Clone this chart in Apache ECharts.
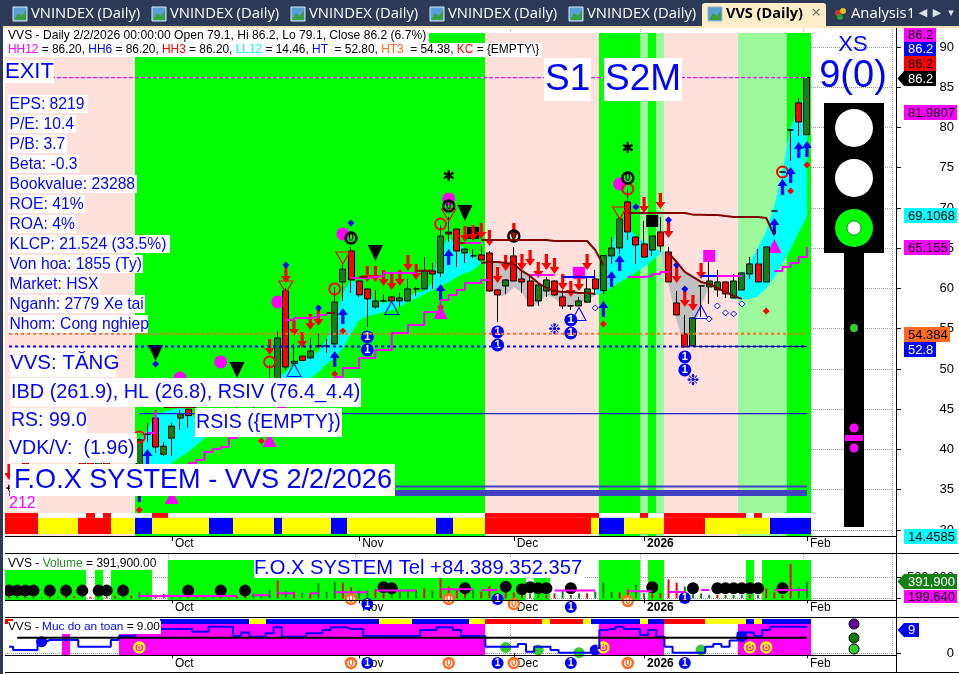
<!DOCTYPE html>
<html><head><meta charset="utf-8">
<style>html,body{margin:0;padding:0;background:#fff}#c{width:959px;height:674px}</style>
<script src="https://cdn.jsdelivr.net/npm/echarts@6/dist/echarts.min.js"></script>
</head><body><div id="c"></div>
<script>
// ---------- data ----------
const monthTicks = {20:'Oct',43:'Nov',62:'Dec',78:'2026',98:'Feb'};
const barCount = 99, slotCount = 109;
// [open, close, low, high]
const ohlc = [
[35.2,35.2,34.9,35.6],[36.0,36.8,35.6,37.2],[38.4,36.6,36.2,38.5],[36.6,36.0,35.5,37.0],[36.0,37.0,35.5,37.5],
[37.0,37.6,36.6,38.0],[37.5,36.8,36.4,37.8],[36.8,37.5,36.5,37.8],[37.4,37.9,37.0,38.1],[38.4,36.5,36.0,38.5],
[38.4,37.0,36.8,38.5],[37.0,38.4,36.8,38.5],[38.4,37.0,36.7,38.5],[37.0,37.8,36.7,38.0],[37.5,38.0,37.0,38.2],
[37.2,38.0,36.9,38.2],[37.4,41.2,37.0,41.4],[41.9,41.9,40.9,43.3],[43.9,40.3,39.6,44.7],[39.4,40.4,39.2,40.9],
[41.4,42.9,39.2,43.3],[43.9,44.4,42.4,44.9],[45.0,44.2,42.7,45.0],[46.0,47.2,45.5,47.8],[47.4,46.3,45.6,47.9],
[46.5,47.5,45.8,48.1],[47.6,46.6,45.7,48.0],[46.8,47.8,45.9,48.2],[46.0,46.0,44.9,47.5],[46.5,46.5,45.5,47.5],
[46.0,47.0,44.9,47.8],[47.0,47.0,45.5,48.0],[47.5,48.4,46.0,50.5],[48.0,53.85,47.5,54.7],[59.7,50.25,49.9,60.07],
[50.7,50.95,50.6,53.1],[51.6,51.05,51.0,51.6],[51.37,52.24,51.3,53.85],[52.86,52.86,52.6,54.35],[52.86,52.86,52.0,53.73],
[53.1,58.3,53.0,60.2],[60.8,62.4,58.45,62.9],[64.66,61.06,59.45,65.16],[60.93,59.2,58.95,61.0],[59.94,58.7,55.2,60.0],
[57.7,58.45,57.45,59.8],[58.45,58.45,58.4,59.2],[58.95,58.45,58.2,59.0],[58.45,58.83,57.7,59.45],[58.45,59.94,58.4,61.2],
[59.94,59.94,59.07,60.2],[59.94,62.18,59.9,63.9],[62.18,61.8,59.94,63.17],[61.93,66.5,61.43,67.9],[67.0,66.77,65.78,68.88],
[67.39,64.66,62.67,67.4],[64.41,64.9,63.17,64.95],[64.04,64.04,63.79,64.9],[64.16,63.54,63.5,65.28],[64.41,59.69,59.6,64.66],
[59.82,59.2,55.84,59.85],[60.31,61.06,59.32,61.18],[64.04,60.93,60.9,65.16],[61.18,60.81,59.44,62.3],[60.93,57.83,57.8,61.68],
[58.45,60.44,57.83,60.5],[59.69,61.06,58.95,61.43],[60.93,59.2,59.1,61.0],[58.95,57.83,57.45,59.8],[57.83,57.83,57.33,57.9],
[57.83,58.45,57.8,58.95],[58.3,59.94,58.25,61.43],[61.18,59.94,59.44,62.3],[59.73,64.08,59.32,64.1],[64.04,65.03,63.05,66.4],
[65.03,68.64,64.29,68.7],[70.75,67.02,66.03,72.24],[66.4,65.4,63.05,66.45],[65.53,63.9,63.85,68.39],[64.78,66.52,64.04,66.55],
[67.02,65.28,64.54,68.88],[64.54,60.81,60.8,65.16],[58.2,56.71,56.7,59.69],[54.35,52.73,52.7,56.71],[52.86,56.34,52.8,56.4],
[60.31,60.31,56.46,60.35],[60.19,60.93,58.08,63.42],[59.82,60.81,58.95,62.3],[60.81,59.32,58.82,60.85],[58.82,60.93,58.8,61.8],
[59.82,61.93,59.8,62.0],[61.8,63.05,61.18,63.92],[63.05,60.81,60.8,64.91],[60.81,65.16,60.8,65.2],[69.63,69.63,69.63,69.63],
[74.47,74.47,74.47,74.47],[79.69,79.69,75.84,79.69],[83.05,80.68,78.95,83.67],[79.1,86.2,79.1,86.2]];
const volumes = [40000,30000,40000,40000,30000,40000,40000,60000,50000,40000,30000,40000,40000,50000,40000,60000,
143000,119000,79000,103000,79000,56000,56000,60000,50000,50000,60000,40000,50000,119000,119000,103000,198000,420000,175000,159000,135000,119000,357000,159000,
397000,373000,262000,198000,198000,222000,119000,159000,198000,214000,198000,238000,198000,476000,278000,214000,159000,198000,159000,294000,
119000,238000,143000,79000,119000,79000,79000,119000,198000,79000,119000,119000,159000,373000,159000,143000,214000,317000,119000,119000,
119000,452000,373000,278000,119000,119000,79000,79000,79000,79000,79000,79000,79000,238000,143000,79000,817000,262000,391900];
const volDir = 'rgrggrgrrgrggrgrggrgggrgrgrgrrgggrgrgrgggrrggrrggggrgrrrrgrrgrrrggrrgggrgggrrggrrrrggggrgggrgrrrrg';
const safetyLevel = [2.25,1.1,1.1,1.1,3.9,4.5,4.5,4.5,4.5,2.25,2.25,2.25,2.25,4.5,5.85,5.85,7.3,7.3,8.2,8.2,8.2,8.2,8.2,7.3,7.3,9,9,9,5.85,7,5.6,5.6,6.75,8.8,5.6,5.6,5.6,6.75,6.75,7.9,8.8,8.8,8.2,8.2,5.85,5.85,5.85,5.85,5.85,5.85,5.85,7.9,7.9,8.8,8.8,7.9,5.85,5.85,5.85,2.25,2.25,2.25,2.25,3.15,0.56,2.25,2.25,1.1,0.2,0.2,0.2,0.2,1.7,7.9,8.2,9,8.2,8.2,6.2,7.9,5.6,2.25,0.2,0.2,0.2,0.2,2.25,3.15,2.25,4.3,7,7,5.85,7.9,9,9,9,9,9];
// chart background, per bar
const bgRuns = [['p',16],['g',43],['p',14],['g',5],['l',1],['g',1],['l',1],['p',9],['l',6],['g',3]];
const stripLow = [['r',4],['y',5],['r',4],['y',3],['b',2],['y',7],['b',3],['y',5],['b',1],['y',6],['b',2],['y',11],['b',2],['y',4],['r',13],['y',1],['b',3],['y',5],['r',5],['y',8],['b',5]];
const stripTop = [['r',4],['n',6],['r',1],['n',1],['r',1],['n',5],['r',2],['n',39],['r',14],['n',5],['r',1],['n',2],['r',10],['n',1],['r',1],['n',6]];
const volBgRuns = [['l',10],['n',1],['l',1],['n',1],['l',5],['n',2],['h',44],['n',1],['h',2],['n',6],['h',5],['n',1],['h',2],['n',10],['h',1],['n',1],['h',6]];
const safetyStrip = [['r',1],['n',18],['b',11],['y',2],['b',14],['y',4],['b',7],['y',2],['r',7],['y',1],['r',4],['y',1],['b',6],['y',1],['b',2],['r',5],['y',5],['b',1],['y',1],['b',6]];
const safetyBand = [['n',7],['m',1],['n',6],['m',45],['n',14],['m',8],['n',9],['m',9]];
// clouds: [first bar, top values, bottom values]
const cloudA = [16,[41.18,42.42,44.29,44.66,44.91,45.16,44.91,43.67,41.43],[36.2,36.84,37.46,37.83,38.33,39.07,39.69,40.56,41.43]];
const cloudB = [33,[48.88,49.63,50.62,51.12,51.49,52.11,53.6,56.09,59.44,61.06,60.56,59.32,58.33,58.2,58.33,58.7,59.07,59.44,59.69,60.68,64.78,66.28,65.66,64.91,64.04,63.17],
 [48.88,48.76,48.76,48.76,48.88,49.63,50.62,51.49,52.61,54.47,56.09,56.59,56.83,57.08,57.33,57.83,58.33,58.82,59.32,59.82,60.31,60.81,61.43,61.93,62.3,63.17]];
const grayE = [59,[63.29,63.29,63.17,63.05,62.18,61.56,60.68,60.06,59.69,59.57,59.57,59.44,59.44,59.32],[59.82,59.07,59.2,60.19,59.57,57.83,58.2,59.2,58.82,57.95,57.7,58.2,58.57,59.2]];
const cloudC = [72,[59.32,62.3,65.41,67.89,67.52,66.52,65.78,65.16,64.66,64.41],[59.2,59.57,60.19,60.81,61.43,62.05,62.67,63.54,64.29,64.41]];
const grayF = [80,[64.54,64.41,63.29,62.05,61.43,60.81,60.56],[64.54,60.68,56.09,52.73,54.85,57.95,60.31]];
const cloudD = [89,[58.7,61.31,63.29,65.03,67.02,70.13,74.35,79.94,82.42,84.41],[58.7,58.7,58.7,59.07,60.06,61.43,63.17,65.03,67.02,69.01]];
// lines: [first bar, values]
const resistLines = [[19,[45.28,45.28,45.28,45.28,45.28]],[39,[56.96,56.96]],[43,[61.43,61.43]],[50,[62.2,62.2,62.2]],[55,[65.65,65.65]],
 [58,[66.03,66.03,66.03,66.03,66.03,66.03,66.03,66.03,66.03,65.9,65.9,65.9,65.9,65.9,64.78,62.9]],
 [76,[69.38,69.38,69.38,69.38,69.38,69.38,69.38,69.38,69.17,69.17,69.13,69.13,69.0,68.88,68.88,68.88,68.88,68.76,66.6]]];
const lowerRedLines = [[58,[63.17,63.29,63.29,63.17,63.05,62.18,61.56,60.68,60.06,59.69,59.57,59.57,59.44,59.44,59.32]],
 [81,[64.41,63.29,62.05,61.43,60.81,60.56,60.06,59.57,59.07,58.7]]];
const stopLines = [[22,[38.33,38.7,39.69,40.06,40.31,41.43,41.68,42.42,43.05,43.67,44.66,45.16,45.78,46.4,47.02,47.64,48.14,48.64,49.01,50.13,50.13,51.37,51.37,52.36,52.36,54.47,54.47,55.47,55.47,57.08,57.08,58.57,59.2,59.82,60.68,60.68,61.06,61.06]],
 [64,[61.68,61.68,61.68,61.68]],[76,[61.43,61.43,61.55,61.8,62.05,62.18]],[87,[61.55,61.55,61.55,61.55]],[94,[62.18,62.67,63.17,63.92,65.16]]];
const upperMagLines = [[17,[42.05,44.91]],[34,[56.09,56.34,56.34,56.46,56.71,56.83]],[42,[61.31,61.31,61.43,61.56,61.93,61.93,61.93,61.93,61.93]],[55,[65.66,65.66,65.66,65.66]]];
const blueLines = [[68,[61.43,61.43,61.43,61.43,61.43]],[85,[61.55,61.55,61.55]]];
const volMALines = [[16,[56000,56000,56000,56000,56000,56000,56000,56000,56000,56000,56000,56000,56000]],[30,[71000,71000,71000]],[33,[119000,119000,119000]],[37,[119000,119000]],[40,[143000,143000,143000,143000,143000]],[45,[183000,183000,183000,183000,183000,183000]],[53,[214000,214000,214000,214000,214000]],[58,[198000,198000,198000]],[67,[183000,183000,183000,183000,183000,183000]],[76,[167000,167000,167000,167000]],[81,[151000,151000,151000]],[85,[198000,198000]],[94,[198000,198000,198000,198000,198000]]];
// levels
const level862 = 86.2, levelHT3 = 54.38, levelHT = 52.8, level444 = 44.46, level354 = 35.4, level346 = 34.6, safetyBase = 5.29;
// markers [bar, value]
const redArrows = [[0,37.2],[32,52.73],[34,61.68],[35,55.1],[36,53.6],[37,55.84],[38,56.34],[44,61.8],[45,61.8],[46,61.31],[47,60.81],[48,61.31],[49,63.17],[50,62.05],[56,66.77],[57,66.9],[58,67.14],[59,66.28],[60,61.68],[61,63.17],[62,67.14],[63,63.29],[64,63.79],[65,62.3],[66,63.29],[67,62.8],[68,60.81],[69,59.94],[70,60.68],[71,63.29],[78,70.37],[80,70.87],[81,67.27],[82,61.68],[83,58.7],[84,58.2],[85,62.18]];
const blueArrows = [[16,34.47],[17,39.07],[40,51.25],[41,56.59],[53,59.57],[54,63.92],[73,57.45],[74,61.18],[75,63.17],[94,67.77],[95,72.61],[96,74.1],[97,77.2],[98,77.33]];
const redDiamonds = [[16,32.49],[31,41.06],[40,49.38],[41,54.72],[53,57.7],[73,55.59],[93,57.21],[96,72.11],[98,75.34]];
const blueDiamonds = [[18,50.62],[34,62.92],[38,57.58],[42,68.14],[77,70.13],[81,68.51],[82,62.92],[83,59.94]];
const redRings = [[16,41.55],[32,50.87],[40,59.94],[53,68.01],[76,72.36],[95,74.47]];
const blackTriangles = [[18,51.99],[28,49.88],[45,64.41],[56,69.38]];
const magentaDots = [[21,48.88],[26,50.87],[33,58.33],[41,66.77],[54,71.12],[75,72.98]];
const blackCoins = [[42,66.28],[54,70.25],[62,66.52],[76,73.73]];
const blueCoins = [[44,53.98],[44,52.36],[60,54.6],[60,52.98],[69,56.09],[69,54.47],[83,51.49],[83,49.88]];
const hollowBlueTri = [[35,49.88],[47,57.58],[70,56.83],[85,57.08]];
const hollowRedTri = [[34,60.19],[41,63.79],[54,69.13],[75,69.38]];
const magentaTri = [[20,34.1],[32,41.18],[53,57.08],[94,65.28]];
const magentaSquares = [[70,61.93],[86,64.04]];
const blackSquares = [[57,66.9],[79,68.39]];
const blueSmallDiamonds = [[72,57.58],[86,56.21],[87,57.83],[88,56.96],[89,56.84],[90,58.08]];
const snowflakes = [[67,54.85],[84,48.51]];
const stars = [[54,73.85],[76,77.33]];
const volBalls = [[0,183000],[1,183000],[2,183000],[3,183000],[5,183000],[7,183000],[9,183000],[11,183000],[12,183000],[14,183000],[22,183000],[26,183000],[29,183000],[46,262000],[47,238000],[56,238000],[61,278000],[63,214000],[64,262000],[65,238000],[66,238000],[69,238000],[79,262000],[84,238000],[87,238000],[88,238000],[89,238000],[90,238000],[91,238000],[92,238000],[95,238000]];
const volOrangeCoins = [[42,-17000],[54,-17000],[62,-136000],[76,-64000]];
const volBlueCoins = [[44,-136000],[60,-17000],[69,-207000],[83,7000]];
const safetyOrangeCoins = [[42,-3.27],[54,-3.27],[62,-3.27],[76,-3.27]];
const safetyBlueCoins = [[44,-3.27],[60,-3.27],[69,-3.27],[83,-3.27]];
const safetyBlueDots = [[4,3.9],[72,1.1],[90,5.6]];
const safetyGreenDots = [[61,2],[65,1.1],[70,0.2],[85,1.1]];
const safetyEights = [[16,2],[73,2],[91,2],[93,2]];
// text
const statLines = [['EPS: 8219',88],['P/E: 10.4',76],['P/B: 3.7',67],['Beta: -0.3',79],['Bookvalue: 23288',137],['ROE: 41%',85],['ROA: 4%',76],['KLCP: 21.524 (33.5%)',170],['Von hoa: 1855 (Ty)',143],['Market: HSX',100],['Nganh: 2779 Xe tai',145],['Nhom: Cong nghiep',148]];
const priceTicks = [30,35,40,45,50,55,60,65,70,75,80,85,90];

// ---------- helpers ----------
const RED='#ff0000',BLUE='#0000ff',MAG='#ff00ff',CYAN='#00ffff',LIME='#00ff00',DKG='#128012',YEL='#ffff00',PINK='#fee0dc',LGRN='#9cf99c',DKRED='#800000',ORG='#ff6a20';
const SANS='"Liberation Sans",Arial,sans-serif';
const expand = runs => runs.flatMap(([k,n])=>Array(n).fill(k));
function cells(ax,codes,map,top,bot){
  const list=expand(codes);
  return {type:'custom',xAxisIndex:ax,yAxisIndex:ax,clip:false,silent:true,encode:{x:0,y:[1,2]},
    data:list.map((c,i)=>[i,typeof top==='function'?top(c):top,bot]),
    renderItem(p,api){
      const f=map[list[p.dataIndex]]; if(!f) return null;
      const a=api.coord([api.value(0),api.value(1)]),b=api.coord([api.value(0),api.value(2)]),w=api.size([1,0])[0];
      const x1=Math.round(a[0]-w/2),x2=Math.round(a[0]+w/2);
      return {type:'rect',shape:{x:x1,y:a[1],width:x2-x1,height:b[1]-a[1]},style:{fill:f}};
    }};
}
function cloud([first,top,bot],fill){
  const d=top.slice(0,-1).map((v,k)=>[first+k,v,bot[k],top[k+1],bot[k+1]]);
  return {type:'custom',clip:false,silent:true,encode:{x:0,y:1},data:d,renderItem(p,api){
    const i=api.value(0);
    const pts=[api.coord([i,api.value(1)]),api.coord([i+1,api.value(3)]),api.coord([i+1,api.value(4)]),api.coord([i,api.value(2)])];
    return {type:'polygon',shape:{points:pts},style:{fill,stroke:fill,lineWidth:0.5}};
  }};
}
const seg=([s,v])=>v.map((y,k)=>[s+k,y]);
const lineS=(data,color,width,extra={},ax=0)=>Object.assign({type:'line',xAxisIndex:ax,yAxisIndex:ax,data,showSymbol:false,symbol:'none',silent:true,animation:false,lineStyle:{color,width}},extra);
const level=(v,from,to,color,width,dash)=>lineS([[from,v],[to,v]],color,width,{lineStyle:{color,width,type:dash||'solid'}});
const marks=(data,symbol,size,itemStyle,extra={},ax=0)=>Object.assign({type:'scatter',clip:false,xAxisIndex:ax,yAxisIndex:ax,data,symbol,symbolSize:size,itemStyle:Object.assign({opacity:1},itemStyle),silent:true},extra);
const coin=(data,size,fill,stroke,bw,txt,tc,fs,ax=0)=>marks(data,'circle',size,{color:fill,borderColor:stroke,borderWidth:bw},{label:{show:true,position:'inside',formatter:txt,color:tc,fontSize:fs,fontWeight:'bold',fontFamily:SANS}},ax);
const ARROW_DN='path://M3.4,0H6.6V9H10L5,16L0,9H3.4Z',ARROW_UP='path://M5,0L10,7H6.6V16H3.4V7H0Z',TRI_DN='path://M0,0H10L5,10Z';

// ---------- overlay ----------
const g=[];
const rect=(x,y,w,h,fill,z=100)=>g.push({type:'rect',z,silent:true,shape:{x,y,width:w,height:h},style:{fill}});
const circ=(cx,cy,r,fill,stroke,lw=1,z=101)=>g.push({type:'circle',z,silent:true,shape:{cx,cy,r},style:{fill,stroke,lineWidth:lw}});
const hl=(x1,x2,y,color='#000',lw=1,z=99)=>g.push({type:'line',z,silent:true,shape:{x1,y1:y,x2,y2:y},style:{stroke:color,lineWidth:lw}});
const txt=(t,x,y,size,fill='#0000ff',extra={},family=SANS,weight='')=>g.push({type:'text',z:102,silent:true,style:Object.assign({text:t,x,y,font:`${weight} ${size}px ${family}`,fill,verticalAlign:'middle',align:'left'},extra)});
const box=(t,x1,y1,x2,y2,size,fill='#0000ff',dx=2)=>{rect(x1,y1,x2-x1,y2-y1,'#fff',101);txt(t,x1+dx,(y1+y2)/2+0.5,size,fill);};

// tab strip
rect(0,0,959,26,'#2c3a57',110); rect(0,26,959,2,'#f4dfb4',110); rect(0,26,3,648,'#2c3a57',110); rect(3,28,2,646,'#fff',109);
const tabFont='"Open Sans",sans-serif';
[13,152,291,430,569].forEach(x=>{g.push({type:'rect',z:111,silent:true,shape:{x,y:7,width:14,height:14},style:{fill:'#5aa0d8',stroke:'#dfe8f0',lineWidth:1}});
  g.push({type:'polygon',z:112,silent:true,shape:{points:[[x+1,20],[x+5,13],[x+9,16],[x+13,10],[x+13,20]]},style:{fill:'#3aa040'}});
  g.push({type:'text',z:112,silent:true,style:{text:'VNINDEX (Daily)',x:x+18,y:14,font:`14.8px ${tabFont}`,fill:'#fff',verticalAlign:'middle'}});});
g.push({type:'rect',z:111,silent:true,shape:{x:702,y:3,width:124,height:25,r:[3,3,0,0]},style:{fill:'#fdeec9'}});
g.push({type:'rect',z:112,silent:true,shape:{x:708,y:7,width:14,height:14},style:{fill:'#5aa0d8',stroke:'#8fb4cc',lineWidth:1}});
g.push({type:'polygon',z:113,silent:true,shape:{points:[[709,20],[713,13],[717,16],[721,10],[721,20]]},style:{fill:'#3aa040'}});
g.push({type:'text',z:112,silent:true,style:{text:'VVS (Daily)',x:726,y:14,font:`bold 14.5px ${tabFont}`,fill:'#000',verticalAlign:'middle'}});
g.push({type:'text',z:112,silent:true,style:{text:'×',x:816,y:13,font:`17px ${tabFont}`,fill:'#666',align:'center',verticalAlign:'middle'}});
circ(838,13,3,'#e03030',null,0,112);circ(843,11,3,'#e8c020',null,0,112);circ(840,17,3,'#30a030',null,0,112);
g.push({type:'text',z:112,silent:true,style:{text:'Analysis1',x:851,y:14,font:`14.8px ${tabFont}`,fill:'#fff',verticalAlign:'middle'}});
[['\u25C0',923],['\u25B6',937],['\u25BE',951]].forEach(([t,x])=>g.push({type:'text',z:112,silent:true,style:{text:t,x,y:13,font:'11px "DejaVu Sans"',fill:'#dfe4ee',align:'center',verticalAlign:'middle'}}));

// header lines
rect(5,28,424,15,'#fff',101); rect(5,43,537,14,'#fff',101);
txt('VVS - Daily 2/2/2026 00:00:00 Open 79.1, Hi 86.2, Lo 79.1, Close 86.2 (6.7%)',8,36,12.1,'#000');
const hdrRich={m:{fill:MAG},b:{fill:BLUE},r:{fill:RED},c:{fill:CYAN},o:{fill:ORG},k:{fill:'#000'}};
g.push({type:'text',z:102,silent:true,style:{x:8,y:50,font:`11.9px ${SANS}`,fill:'#000',verticalAlign:'middle',rich:Object.fromEntries(Object.entries(hdrRich).map(([k,v])=>[k,{fill:v.fill,font:`11.9px ${SANS}`}])),
 text:'{m|HH12}{k| = 86.20, }{b|HH6}{k| = 86.20, }{r|HH3}{k| = 86.20, }{c|LL12}{k| = 14.46, }{b|HT}{k|  = 52.80, }{o|HT3}{k|  = 54.38, }{r|KC}{k| = {EMPTY\\}}'}});
// left text
box('EXIT',5,60,54,83,22,BLUE,0);
statLines.forEach(([t,r],k)=>box(t,8,95+k*20,r,113+k*20,15.7,BLUE,1.5));
box('VVS: TĂNG',10,348,116,377,20.5,BLUE,0);
box('IBD (261.9), HL (26.8), RSIV (76.4_4.4)',10,378,361,407,19.9,BLUE,1);
box('RS: 99.0',10,408,87,433,19.5,BLUE,1);
box('VDK/V:  (1.96)',9,433,137,463,19.6,BLUE,0);
box('RSIS ({EMPTY})',195,408,342,437,19.6,BLUE,1);
box('F.O.X SYSTEM - VVS 2/2/2026',10,464,395,496,27.1,BLUE,4);
box('212',9,496,37,511,16,MAG,0);
box('S1',544,58,591,101,37,BLUE,1);
box('S2M',604,58,682,101,37,BLUE,1);
// volume + safety text
rect(8,559,149,11,'#fff',101);
g.push({type:'text',z:102,silent:true,style:{x:8,y:564,font:`12px ${SANS}`,verticalAlign:'middle',rich:{k:{fill:'#000',font:`12px ${SANS}`},g:{fill:'#2a8a2a',font:`12px ${SANS}`}},text:'{k|VVS - }{g|Volume}{k| = 391,900.00}'}});
box('F.O.X SYSTEM Tel +84.389.352.357',254,557,585,578,20.2,BLUE,0);
rect(8,621,153,13,'#fff',101);
g.push({type:'text',z:102,silent:true,style:{x:8,y:627,font:`11.8px ${SANS}`,verticalAlign:'middle',rich:{k:{fill:'#000',font:`11.8px ${SANS}`},b:{fill:BLUE,font:`11.8px ${SANS}`}},text:'{k|VVS - }{b|Muc do an toan}{k| = 9.00}'}});
// XS + traffic light
txt('XS',853,45,22,BLUE,{align:'center'});
txt('9(0)',853,77,38,BLUE,{align:'center'});
rect(824,103,60,150,'#000',100); rect(844,253,20,274,'#000',100);
circ(854,128,19,'#fff',null,0); circ(854,178,19,'#fff',null,0); circ(854,228,19,LIME,null,0); circ(854,228,7,'#fff','#000',0.5,102);
circ(854,328,4,'#33cc33',null,0); circ(854,428,4.5,MAG,null,0); rect(845,435,18,6,MAG,101); circ(854,448,4.5,MAG,null,0);
circ(854,624,5,'#660099','#000',1); circ(854,638,5,'#0a7a0a','#000',1); circ(854,649,5,'#33cc33','#000',1);
// frame lines
hl(3,897,536.5); hl(3,959,553.5); hl(3,897,600.5); hl(3,959,617.5); hl(3,897,655.5); hl(3,959,672.5);
g.push({type:'line',z:99,silent:true,shape:{x1:896.5,y1:28,x2:896.5,y2:673},style:{stroke:'#000',lineWidth:1}});
// value tags
const tag=(t,x1,y1,x2,y2,bg,fg)=>{rect(x1,y1,x2-x1,y2-y1,bg,103);g.push({type:'text',z:104,silent:true,style:{text:t,x:x1+4,y:(y1+y2)/2+0.5,font:`13px ${SANS}`,fill:fg,verticalAlign:'middle'}});};
const arrowTag=(t,x2,y1,y2,bg,fg)=>{g.push({type:'polygon',z:103,silent:true,shape:{points:[[897.5,(y1+y2)/2],[904,y1],[x2,y1],[x2,y2],[904,y2]]},style:{fill:bg}});g.push({type:'text',z:104,silent:true,style:{text:t,x:908,y:(y1+y2)/2+0.5,font:`13px ${SANS}`,fill:fg,verticalAlign:'middle'}});};
tag('86.2',904,27,936,42,MAG,'#000'); tag('86.2',904,42,936,56,BLUE,'#fff'); tag('86.2',904,56,936,71,RED,'#000');
arrowTag('86.2',936,71,86,'#000','#fff');
tag('81.9807',904,105,957,120,MAG,'#000'); tag('69.1068',904,208,957,223,CYAN,'#000'); tag('65.155',904,240,950,255,MAG,'#000');
tag('54.384',904,327,950,342,ORG,'#000'); tag('52.8',904,342,936,357,BLUE,'#fff'); tag('14.4585',904,529,957,544,CYAN,'#000');
arrowTag('391,900',957,574,589,DKG,'#fff'); tag('199,640',904,590,957,603,MAG,'#000');
arrowTag('9',919,623,637,BLUE,'#fff');

// ---------- axes ----------
const cats=Array.from({length:slotCount},(_,i)=>monthTicks[i]||'');
const hasTick=(i,v)=>v!=='';
const xa=(idx)=>({type:'category',gridIndex:idx,data:cats,boundaryGap:true,axisLine:{show:false},
  axisTick:{show:true,alignWithLabel:true,interval:hasTick,length:5,lineStyle:{color:'#000'}},
  splitLine:{show:true,interval:hasTick,lineStyle:{color:'#aaa',type:'dotted'}},
  axisLabel:{interval:hasTick,align:'left',margin:2,padding:[0,0,0,3],color:'#000',fontSize:12,fontFamily:SANS,
    formatter:v=>v==='2026'?'{b|2026}':v,rich:{b:{fontWeight:'bold',fontSize:12,fontFamily:SANS,color:'#000'}}}});
const ya=(idx,min,max,custom,fmt)=>({type:'value',gridIndex:idx,position:'right',offset:4.5,min,max,
  axisLine:{show:false},axisTick:{show:true,length:4,customValues:custom,lineStyle:{color:'#000'}},
  splitLine:{show:true,lineStyle:{color:'#999',type:'dotted'}},
  axisLabel:{customValues:custom,formatter:fmt,align:'right',margin:57,color:'#000',fontSize:13,fontFamily:SANS}});

// ---------- series ----------
const s=[];
s.push(cells(0,bgRuns,{p:PINK,g:LIME,l:LGRN},91.74,29.25));
s.push(cells(0,stripTop,{r:RED,n:'#fff'},32.1,31.5));
s.push(cells(0,stripLow,{r:RED,y:YEL,b:BLUE},31.5,29.5));
s.push(cloud(cloudA,CYAN),cloud(cloudB,CYAN),cloud(cloudC,CYAN),cloud(cloudD,CYAN),cloud(grayE,'#c0c0c0'),cloud(grayF,'#c0c0c0'));
s.push(level(level862,0,98,'#ffffff',1));
s.push(level(level862,0,98,MAG,1.3,[4,2]));
s.push(level(levelHT3,0,98,ORG,2,[3,3]));
s.push(level(levelHT,0,98,BLUE,2,[3,3]));
s.push(level(levelHT,84,98,'#000090',1));
s.push(level(level444,16,98,'#2222cc',1.3));
s.push(level(level354,0,98,'#4040c0',2));
s.push(level(level346,0,98,'#4040c0',6));
stopLines.forEach(l=>s.push(lineS(seg(l),MAG,2,{step:'end'})));
upperMagLines.forEach(l=>s.push(lineS(seg(l),MAG,2,{step:'end'})));
blueLines.forEach(l=>s.push(lineS(seg(l),BLUE,2)));
resistLines.forEach(l=>s.push(lineS(seg(l),DKRED,2)));
lowerRedLines.forEach(l=>s.push(lineS(seg(l),DKRED,2)));
s.push(marks(magentaDots,'circle',13,{color:MAG}));
s.push(marks(blackSquares,'rect',12,{color:'#000'}));
s.push(marks(magentaSquares,'rect',12,{color:MAG}));
s.push(marks(magentaTri,'triangle',[14,14],{color:MAG}));
s.push({type:'candlestick',data:ohlc,barWidth:6.5,silent:true,itemStyle:{color:'#128012',color0:RED,borderColor:'#000',borderColor0:'#000',borderColorDoji:'#000',borderWidth:1}});
s.push(marks(hollowRedTri,TRI_DN,[14,12],{color:'rgba(0,0,0,0)',borderColor:RED,borderWidth:1.2}));
s.push(marks(hollowBlueTri,'triangle',[14,13],{color:'rgba(0,0,0,0)',borderColor:BLUE,borderWidth:1}));
s.push(marks(blackTriangles,TRI_DN,[15,16],{color:'#000'}));
s.push(marks(redRings,'circle',11,{color:'rgba(0,0,0,0)',borderColor:RED,borderWidth:2}));
s.push(marks(redArrows,ARROW_DN,[10,16],{color:RED}));
s.push(marks(blueArrows,ARROW_UP,[10,16],{color:BLUE}));
s.push(marks(redDiamonds,'diamond',7,{color:RED}));
s.push(marks(blueDiamonds,'diamond',7,{color:BLUE}));
s.push(marks(blueSmallDiamonds,'diamond',6,{color:'#fff',borderColor:BLUE,borderWidth:1}));
s.push(coin(blackCoins,11,'rgba(0,0,0,0)','#000',2.5,'0','#000',10));
s.push(coin(blueCoins,13,BLUE,BLUE,0,'1','#fff',11));
const textMark=(data,t,size,color)=>marks(data,'circle',1,{color:'rgba(0,0,0,0)'},{label:{show:true,position:'inside',formatter:t,color,fontSize:size,fontFamily:'"DejaVu Sans"'}});
s.push(textMark(snowflakes,'\u2749',15,BLUE));
s.push(textMark(stars,'\u2731',15,'#000'));
// volume
s.push(cells(1,volBgRuns,{l:LIME,h:LIME},c=>c==='h'?911000:673000,-40000));
s.push({type:'bar',xAxisIndex:1,yAxisIndex:1,barWidth:2,silent:true,data:volumes.map((v,i)=>({value:v,itemStyle:{color:volDir[i]==='r'?RED:DKG}}))});
volMALines.forEach(l=>s.push(lineS(seg(l),MAG,2,{},1)));
s.push(marks(volBalls,'circle',12,{color:'#000'},{},1));
s.push(coin(volOrangeCoins,10,'#fff',ORG,2.5,'0',ORG,10,1));
s.push(coin(volBlueCoins,12,BLUE,BLUE,0,'1','#fff',10,1));
// safety
s.push(cells(2,safetyBand,{m:MAG},9.89,-0.91));
s.push(cells(2,safetyStrip,{r:RED,y:YEL,b:BLUE},11.58,9.89));
s.push(lineS(safetyLevel.map((v,i)=>[i,v]),BLUE,2,{step:'middle'},2));
s.push(lineS([[1,safetyBase],[98,safetyBase]],'#000',2,{},2));
s.push(marks(safetyBlueDots,'circle',11,{color:BLUE},{},2));
s.push(marks(safetyGreenDots,'circle',11,{color:'#33cc33'},{},2));
s.push(coin(safetyEights,10,MAG,YEL,2.5,'8',YEL,10,2));
s.push(coin(safetyOrangeCoins,10,'#fff',ORG,2.5,'0',ORG,10,2));
s.push(coin(safetyBlueCoins,12,BLUE,BLUE,0,'1','#fff',10,2));

const chart=echarts.init(document.getElementById('c'),null,{renderer:'canvas'});
chart.setOption({animation:false,backgroundColor:'#fff',tooltip:{show:false},
 grid:[{left:5,top:27,width:887.4,height:509},{left:5,top:554,width:887.4,height:46},{left:5,top:617,width:887.4,height:39}],
 xAxis:[xa(0),xa(1),xa(2)],
 yAxis:[ya(0,29.25,92.48,priceTicks),ya(1,-40000,1054000,[0,500000],v=>v?'500,000':'0'),ya(2,-0.91,12.25,[0])],
 series:s,graphic:{elements:g}});
</script></body></html>
